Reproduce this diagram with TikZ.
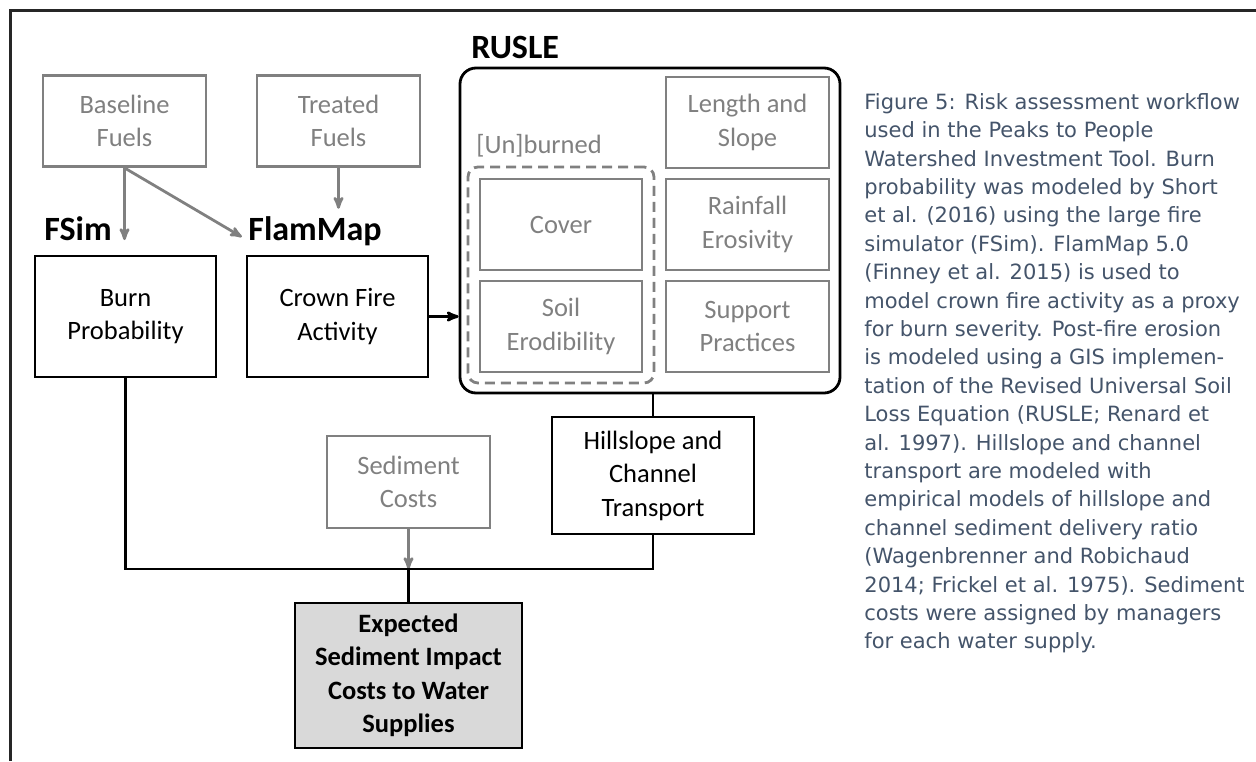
\documentclass[tikz,border=0pt]{standalone}
\usepackage{fontspec}
\setmainfont{Carlito}
\newfontfamily\capfont{DejaVu Sans}
\usepackage{tikz}
\usetikzlibrary{arrows,positioning}

\definecolor{boxgray}{HTML}{808080}
\definecolor{capblue}{HTML}{44546A}
\definecolor{fillgray}{HTML}{D9D9D9}

\begin{document}
\begin{tikzpicture}[x=1pt,y=-1pt,>=stealth',line width=2.8pt]
  \tikzstyle{every node}=[font=\fontsize{26.5}{33.5}\selectfont]
  \tikzstyle{input}=[draw=boxgray,text=boxgray,align=center,minimum width=163pt,minimum height=91pt]
  \tikzstyle{model}=[draw=black,align=center,minimum width=181pt,minimum height=121pt]
  \tikzstyle{title}=[font=\fontsize{34}{40}\selectfont\bfseries,anchor=base west,inner sep=0pt]

  \useasboundingbox (0,0) rectangle (1256,761);
  \draw[color=black!85,line width=3pt] (10.5,761) -- (10.5,10.5) -- (1256,10.5);

  % fuels and fire models
  \node[input] (base) at (124.5,121) {Baseline\\Fuels};
  \node[input] (treat) at (338.5,121) {Treated\\Fuels};
  \node[title] (fsim) at (43,240) {FSim};
  \node[title] (flam) at (247,240) {FlamMap};
  \node[model] (burn) at (125.5,316.5) {Burn\\Probability};
  \node[model] (crown) at (337.5,316.5) {Crown Fire\\Activity};

  % RUSLE factors
  \node[draw,rounded corners=16pt,minimum width=380pt,minimum height=325pt] (rusle) at (650,230.5) {};
  \node[title] (rlabel) at (470,58) {RUSLE};
  \node[draw=boxgray,dash pattern=on 10pt off 6pt,rounded corners=10pt,minimum width=186pt,minimum height=216pt] (unb) at (561,275) {};
  \node[text=boxgray,anchor=base west,inner sep=0pt] (ulabel) at (475,153) {[Un]burned};
  \node[input,minimum width=162pt] (cover) at (561,224.5) {Cover};
  \node[input,minimum width=162pt] (soil) at (561,326.5) {Soil\\Erodibility};
  \node[input] (length) at (747.5,122.5) {Length and\\Slope};
  \node[input] (rain) at (747.5,224.5) {Rainfall\\Erosivity};
  \node[input] (support) at (747.5,326.5) {Support\\Practices};

  % transport and costs
  \node[model,minimum width=202pt,minimum height=117pt] (hill) at (653,475.5) {Hillslope and\\Channel\\Transport};
  \node[input,minimum height=92pt] (sed) at (408.5,482) {Sediment\\Costs};
  \node[model,fill=fillgray,font=\fontsize{26.5}{33.5}\selectfont\bfseries,minimum width=227pt,minimum height=145pt] (exp) at (408.5,675.5) {Expected\\Sediment Impact\\Costs to Water\\Supplies};
  \coordinate (join) at (408.5,569);

  \path[->,color=boxgray]
    (base.south) edge (base.south |- fsim.base)
    (base.south) edge[shorten >=6pt] (flam.base west)
    (treat) edge[shorten >=6pt] (treat |- flam.north)
    (sed) edge (join);
  \path[->] (crown) edge (crown -| rusle.west);
  \draw (hill.north |- rusle.south) -- (hill.north);
  \draw (burn.south) -- (burn.south |- join) -- (hill.south |- join) -- (hill.south);
  \draw (join) -- (exp.north);

  \node[anchor=north west,align=left,text=capblue,inner sep=0pt,font=\capfont\fontsize{21}{28.4}\selectfont] (caption) at (863,92)
    {Figure 5: Risk assessment workflow\\
     used in the Peaks to People\\
     Watershed Investment Tool. Burn\\
     probability was modeled by Short\\
     et al. (2016) using the large fire\\
     simulator (FSim). FlamMap 5.0\\
     (Finney et al. 2015) is used to\\
     model crown fire activity as a proxy\\
     for burn severity. Post-fire erosion\\
     is modeled using a GIS implemen-\\
     tation of the Revised Universal Soil\\
     Loss Equation (RUSLE; Renard et\\
     al. 1997). Hillslope and channel\\
     transport are modeled with\\
     empirical models of hillslope and\\
     channel sediment delivery ratio\\
     (Wagenbrenner and Robichaud\\
     2014; Frickel et al. 1975). Sediment\\
     costs were assigned by managers\\
     for each water supply.};
\end{tikzpicture}
\end{document}
